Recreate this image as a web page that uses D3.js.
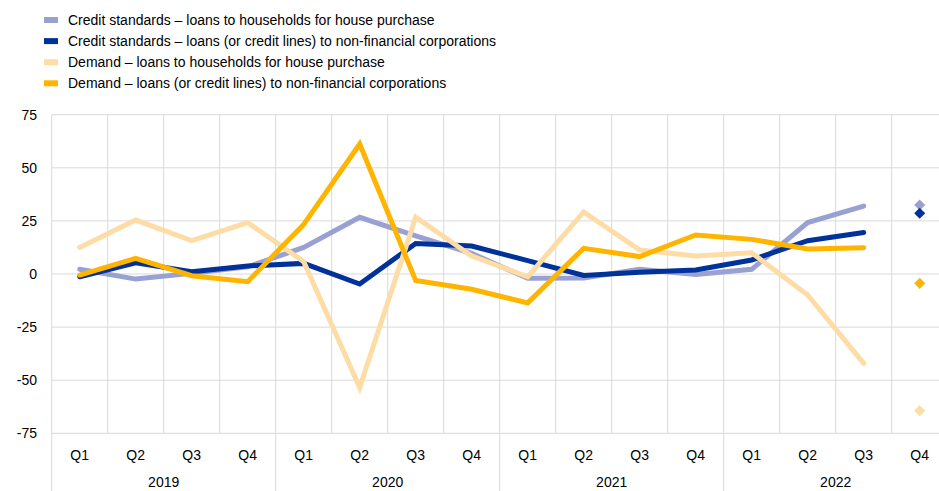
<!DOCTYPE html>
<html lang="en">
<head>
    <meta charset="UTF-8">
    <title>Credit standards and demand</title>
    <script type="text/javascript" src="https://cdn.jsdelivr.net/npm/d3@7"></script>
    <style type="text/css">
        body { margin: 0; background: #fff; }
        svg { display: block; font-family: Arial, "Liberation Sans", sans-serif; }
    </style>
</head>
<body>
    <script type="text/javascript">

        var w = 939;
        var h = 491;

        var years = ["2019", "2020", "2021", "2022"];
        var quarters = ["Q1", "Q2", "Q3", "Q4"];
        var yTicks = [75, 50, 25, 0, -25, -50, -75];

        var names = [
            "Credit standards \u2013 loans to households for house purchase",
            "Credit standards \u2013 loans (or credit lines) to non-financial corporations",
            "Demand \u2013 loans to households for house purchase",
            "Demand \u2013 loans (or credit lines) to non-financial corporations"
        ];
        var colors = ["#98a1d2", "#003299", "#fddca6", "#ffb400"];

        // Q1 2019 .. Q3 2022 (15 quarters)
        var creditHouse = [2.2, -2.4, 0.3, 3.4, 12.5, 26.7, 17.9, 9.7, -2.0, -1.9, 2.2, -0.2, 2.2, 24.2, 32.0];
        var creditCorp  = [-1.3, 5.3, 1.1, 3.8, 5.0, -4.7, 14.4, 13.2, 6.3, -0.7, 0.8, 1.9, 6.6, 15.7, 19.5];
        var demandHouse = [12.5, 25.4, 15.7, 24.2, 5.8, -53.5, 26.7, 8.5, -1.3, 29.2, 11.3, 8.5, 10.0, -9.9, -42.1];
        var demandCorp  = [-0.5, 7.4, -0.8, -3.6, 23.3, 61.2, -3.1, -7.2, -13.6, 12.1, 8.2, 18.4, 16.3, 11.8, 12.4];
        // Q4 2022 expectations (diamonds), same order as series
        var expected = [32.5, 28.6, -64.4, -4.4];

        var series = [creditHouse, creditCorp, demandHouse, demandCorp];

        var periods = [];
        years.forEach(function(yr) {
            quarters.forEach(function(q) { periods.push(yr + " " + q); });
        });

        var plotLeft = 51.7, plotRight = 947.7, plotTop = 114.7, plotBottom = 433.3;

        var x = d3.scaleBand().domain(periods).range([plotLeft, plotRight]);
        var y = d3.scaleLinear().domain([-75, 75]).range([plotBottom, plotTop]);

        var svg = d3.select("body")
                    .append("svg")
                    .attr("width", w)
                    .attr("height", h);

        // horizontal gridlines
        svg.selectAll("line.hgrid")
            .data(yTicks)
            .enter()
            .append("line")
            .attr("class", "hgrid")
            .attr("x1", plotLeft)
            .attr("x2", w)
            .attr("y1", function(d) { return y(d); })
            .attr("y2", function(d) { return y(d); })
            .attr("stroke", "#d9d9d9")
            .attr("stroke-width", 1);

        // vertical gridlines between quarters, year separators run to the bottom
        svg.selectAll("line.vgrid")
            .data(periods)
            .enter()
            .append("line")
            .attr("class", "vgrid")
            .attr("x1", function(d) { return x(d); })
            .attr("x2", function(d) { return x(d); })
            .attr("y1", plotTop)
            .attr("y2", function(d, i) { return i % 4 === 0 ? h : plotBottom; })
            .attr("stroke", "#d9d9d9")
            .attr("stroke-width", 1);

        // y tick labels
        svg.selectAll("text.ytick")
            .data(yTicks)
            .enter()
            .append("text")
            .attr("class", "ytick")
            .attr("x", 37)
            .attr("y", function(d) { return y(d); })
            .attr("dy", "0.35em")
            .attr("text-anchor", "end")
            .attr("font-size", "14px")
            .attr("fill", "#000")
            .text(function(d) { return d; });

        // quarter labels
        svg.selectAll("text.qtick")
            .data(periods)
            .enter()
            .append("text")
            .attr("class", "qtick")
            .attr("x", function(d) { return x(d) + x.bandwidth() / 2; })
            .attr("y", 455)
            .attr("dy", "0.35em")
            .attr("text-anchor", "middle")
            .attr("font-size", "14px")
            .attr("fill", "#000")
            .text(function(d) { return d.split(" ")[1]; });

        // year labels
        svg.selectAll("text.year")
            .data(years)
            .enter()
            .append("text")
            .attr("class", "year")
            .attr("x", function(d) { return x(d + " Q2") + x.bandwidth(); })
            .attr("y", 482)
            .attr("dy", "0.35em")
            .attr("text-anchor", "middle")
            .attr("font-size", "14px")
            .attr("fill", "#000")
            .text(function(d) { return d; });

        // lines
        var line = d3.line()
            .x(function(d, i) { return x(periods[i]) + x.bandwidth() / 2; })
            .y(function(d) { return y(d); });

        svg.selectAll("path.series")
            .data(series)
            .enter()
            .append("path")
            .attr("class", "series")
            .attr("d", line)
            .attr("fill", "none")
            .attr("stroke", function(d, i) { return colors[i]; })
            .attr("stroke-width", 5)
            .attr("stroke-linejoin", "miter")
            .attr("stroke-linecap", "round");

        // diamonds for Q4 2022 expectations
        var diamond = d3.symbol().type(d3.symbolDiamond2).size(78);
        svg.selectAll("path.exp")
            .data(expected)
            .enter()
            .append("path")
            .attr("class", "exp")
            .attr("d", diamond)
            .attr("transform", function(d) {
                return "translate(" + (x("2022 Q4") + x.bandwidth() / 2) + "," + y(d) + ")";
            })
            .attr("fill", function(d, i) { return colors[i]; });

        // legend
        var legend = svg.selectAll("g.legend")
            .data(names)
            .enter()
            .append("g")
            .attr("class", "legend")
            .attr("transform", function(d, i) { return "translate(44," + (20 + i * 21.1) + ")"; });

        legend.append("rect")
            .attr("x", 0)
            .attr("y", -3)
            .attr("width", 14)
            .attr("height", 6)
            .attr("fill", function(d, i) { return colors[i]; });

        legend.append("text")
            .attr("x", 24)
            .attr("y", 0)
            .attr("dy", "0.35em")
            .attr("font-size", "14px")
            .attr("fill", "#000")
            .text(function(d) { return d; });

    </script>
</body>
</html>
